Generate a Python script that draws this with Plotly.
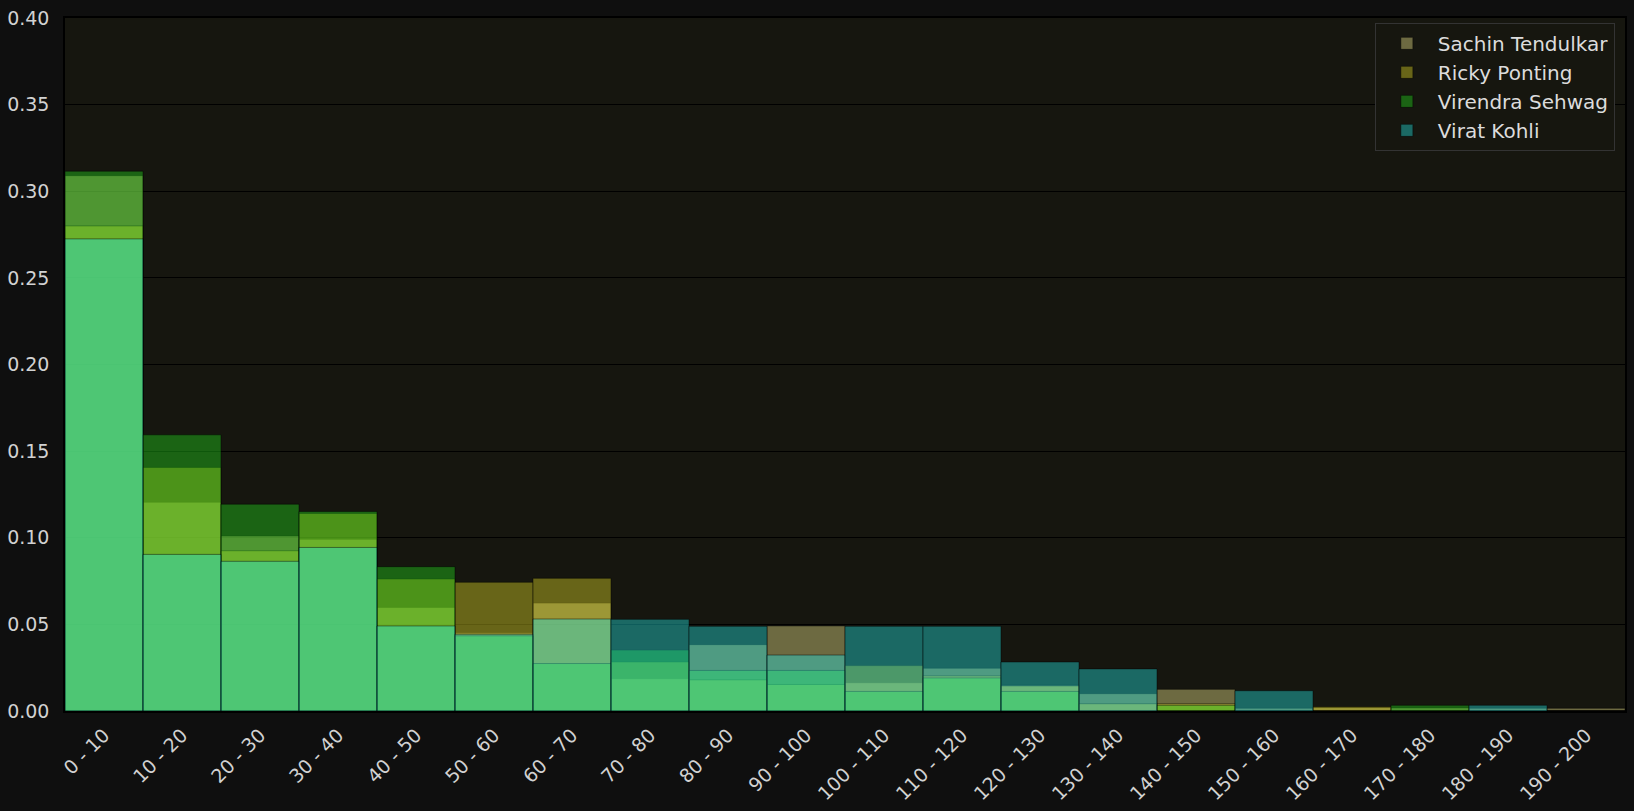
import plotly.graph_objects as go

# ---- data (fraction of innings per runs bin) ----
bin_starts = [0, 10, 20, 30, 40, 50, 60, 70, 80, 90,
              100, 110, 120, 130, 140, 150, 160, 170, 180, 190]
bin_labels = ["0 - 10", "10 - 20", "20 - 30", "30 - 40", "40 - 50",
              "50 - 60", "60 - 70", "70 - 80", "80 - 90", "90 - 100",
              "100 - 110", "110 - 120", "120 - 130", "130 - 140", "140 - 150",
              "150 - 160", "160 - 170", "170 - 180", "180 - 190", "190 - 200"]

sachin = [0.3090, 0.1205, 0.1010, 0.0991, 0.0598, 0.0451, 0.0623, 0.0186, 0.0383, 0.0491,
          0.0163, 0.0247, 0.0149, 0.0100, 0.0125, 0.0016, 0.0020, 0.0018, 0.0016, 0.0016]
ricky = [0.2800, 0.1406, 0.0925, 0.1140, 0.0762, 0.0743, 0.0766, 0.0283, 0.0180, 0.0153,
         0.0262, 0.0203, 0.0145, 0.0042, 0.0042, 0.0, 0.0024, 0.0, 0.0, 0.0]
sehwag = [0.3116, 0.1594, 0.1194, 0.1152, 0.0833, 0.0434, 0.0274, 0.0352, 0.0234, 0.0234,
          0.0113, 0.0191, 0.0113, 0.0, 0.0033, 0.0, 0.0, 0.0033, 0.0, 0.0]
kohli = [0.2725, 0.0904, 0.0864, 0.0944, 0.0491, 0.0443, 0.0531, 0.0529, 0.0489, 0.0323,
         0.0489, 0.0489, 0.0283, 0.0243, 0.0, 0.0117, 0.0, 0.0, 0.0033, 0.0]

players = ["Sachin Tendulkar", "Ricky Ponting", "Virendra Sehwag", "Virat Kohli"]
series = [sachin, ricky, sehwag, kohli]
colors = ["rgba(240,232,140,0.4)", "rgba(227,220,38,0.4)",
          "rgba(35,217,28,0.4)", "rgba(35,230,228,0.4)"]

bin_width = 10
centers = [s + bin_width / 2 for s in bin_starts]

fig = go.Figure()
for name, vals, col in zip(players, series, colors):
    fig.add_trace(go.Bar(
        x=centers, y=vals, width=bin_width, name=name,
        marker=dict(color=col, line=dict(color="rgba(0,0,0,0.45)", width=1)),
    ))

font_family = "DejaVu Sans"
tick_color = "#d2d2d2"

fig.update_layout(
    width=1634, height=811,
    barmode="overlay",
    paper_bgcolor="#0f0f0f",
    plot_bgcolor="#16160f",
    margin=dict(l=62, r=7, t=15, b=97),
    font=dict(family=font_family, size=19, color=tick_color),
    legend=dict(
        x=0.9935, y=0.993, xanchor="right", yanchor="top",
        bgcolor="#16160f", bordercolor="#333333", borderwidth=1,
        font=dict(family=font_family, size=20, color="#dcdcdc"),
        itemwidth=52, tracegroupgap=4,
    ),
    showlegend=True,
)
fig.update_xaxes(
    range=[0, 200], tickvals=centers, ticktext=bin_labels, tickangle=-45,
    showgrid=False, zeroline=False,
    showline=True, linecolor="#000000", linewidth=1.5, mirror=True,
    ticks="", ticklabelstandoff=4,
    tickfont=dict(family=font_family, size=19, color=tick_color),
)
fig.update_yaxes(
    range=[0, 0.40], tickvals=[0, 0.05, 0.10, 0.15, 0.20, 0.25, 0.30, 0.35, 0.40],
    tickformat=".2f",
    showgrid=True, gridcolor="#000000", gridwidth=1.3, zeroline=False,
    showline=True, linecolor="#000000", linewidth=1.5, mirror=True,
    ticks="", ticklabelstandoff=10,
    tickfont=dict(family=font_family, size=19, color=tick_color),
)

fig.write_html("out.html",
               config={"displayModeBar": False},
               post_script="document.body.style.margin='0';document.body.style.overflow='hidden';document.body.style.background='#0f0f0f';")
